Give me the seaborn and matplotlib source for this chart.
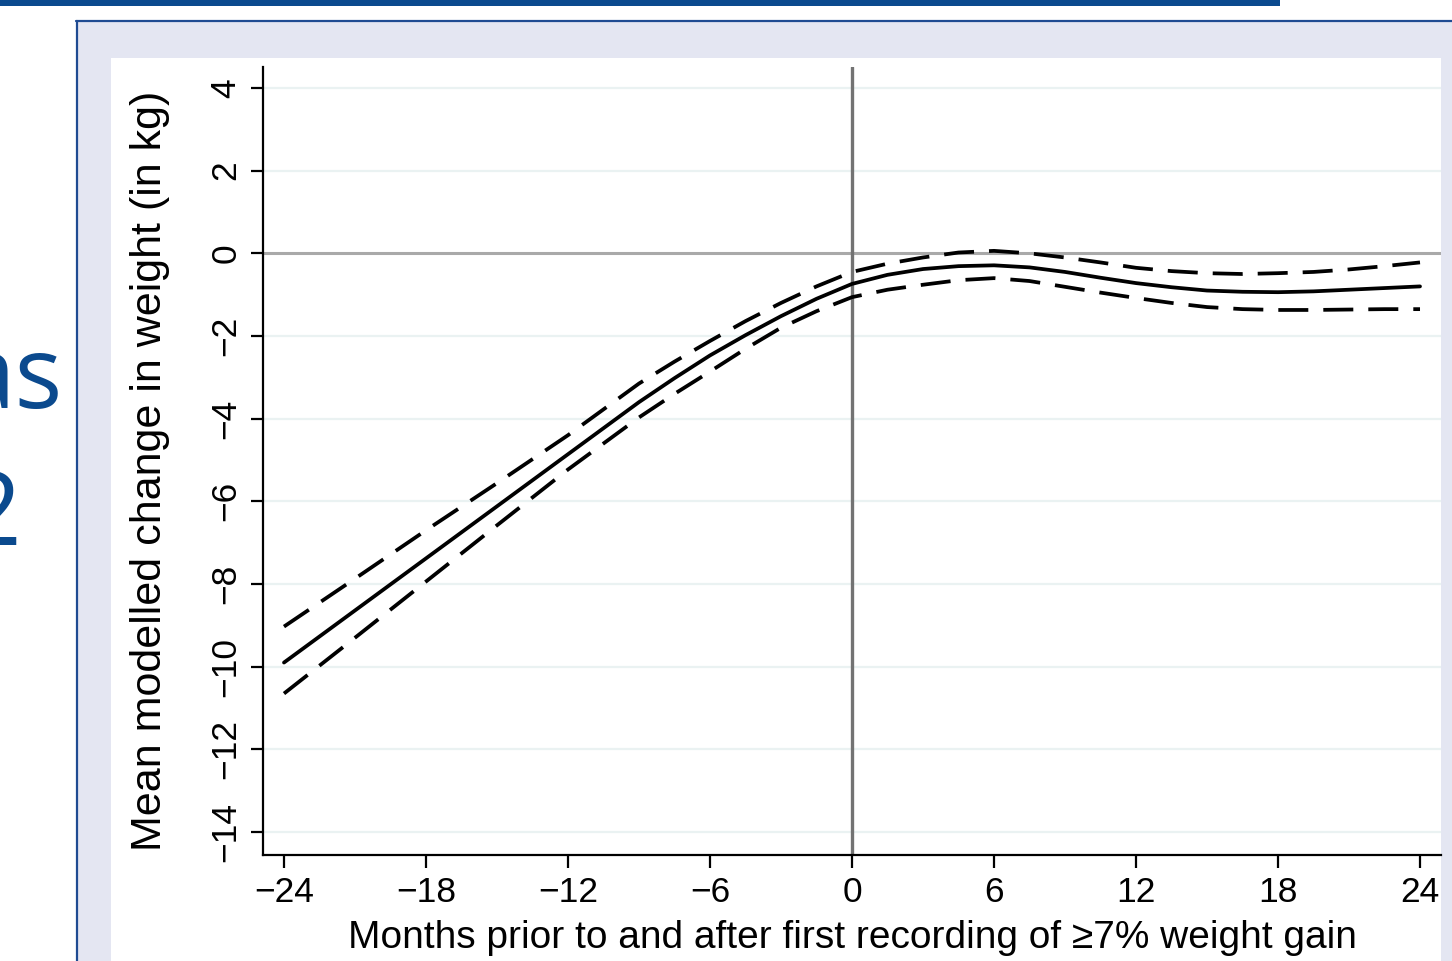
import matplotlib
matplotlib.use("Agg")
import matplotlib.pyplot as plt
import matplotlib.patches as mpatches
import seaborn as sns
import pandas as pd

# ---- data ----
months = [-24, -21, -18, -15, -12, -9, -7.5, -6, -4.5, -3, -1.5, 0, 1.5, 3, 4.5, 6,
          7.5, 9, 10.5, 12, 13.5, 15, 16.5, 18, 19.5, 21, 22.5, 24]
mean_change = [-9.9, -8.64, -7.38, -6.12, -4.86, -3.6, -3.02, -2.47, -1.98, -1.52,
               -1.1, -0.74, -0.52, -0.38, -0.31, -0.29, -0.34, -0.45, -0.59, -0.72,
               -0.82, -0.9, -0.93, -0.94, -0.92, -0.88, -0.84, -0.8]
upper_ci = [-9.03, -7.87, -6.7, -5.56, -4.4, -3.15, -2.62, -2.12, -1.64, -1.2,
            -0.8, -0.45, -0.25, -0.1, 0.02, 0.06, 0.0, -0.1, -0.22, -0.35,
            -0.43, -0.48, -0.5, -0.48, -0.45, -0.39, -0.31, -0.22]
lower_ci = [-10.65, -9.3, -7.94, -6.58, -5.23, -3.97, -3.4, -2.86, -2.31, -1.8,
            -1.4, -1.06, -0.88, -0.76, -0.65, -0.6, -0.67, -0.81, -0.95, -1.08,
            -1.2, -1.3, -1.35, -1.37, -1.37, -1.36, -1.35, -1.35]
x_ticks = [-24, -18, -12, -6, 0, 6, 12, 18, 24]
y_ticks = [4, 2, 0, -2, -4, -6, -8, -10, -12, -14]
x_label = "Months prior to and after first recording of \u22657% weight gain"
y_label = "Mean modelled change in weight (in kg)"

df = pd.DataFrame({"month": months, "mean": mean_change,
                   "upper": upper_ci, "lower": lower_ci})

sns.set_theme(style="white")
plt.rcParams["font.family"] = ["Liberation Sans", "DejaVu Sans"]

W, H = 1452, 961
fig = plt.figure(figsize=(W / 100, H / 100), dpi=100)
fig.patch.set_facecolor("white")

blue = "#0B4A8E"
# slide decorations
fig.patches.append(mpatches.Rectangle((76 / W, 0), 1 - 76 / W, 1 - 21 / H,
                                      transform=fig.transFigure, facecolor="#E4E6F2",
                                      edgecolor="none", zorder=0))
fig.lines.append(plt.Line2D([76.5 / W, 76.5 / W], [0, 1 - 21 / H], transform=fig.transFigure,
                            color="#1F4B92", lw=1.6, zorder=1))
fig.lines.append(plt.Line2D([76 / W, 1], [1 - 21 / H, 1 - 21 / H], transform=fig.transFigure,
                            color="#1F4B92", lw=1.6, zorder=1))
fig.patches.append(mpatches.Rectangle((111 / W, 0), (1441 - 111) / W, 1 - 58 / H,
                                      transform=fig.transFigure, facecolor="white",
                                      edgecolor="none", zorder=0.5))
fig.patches.append(mpatches.Rectangle((0, 1 - 6 / H), 1280 / W, 6 / H,
                                      transform=fig.transFigure, facecolor=blue,
                                      edgecolor="none", zorder=1))
fig.text(63 / W, 1 - 408 / H, "as", color=blue, fontsize=72, ha="right", va="baseline",
         family=["Open Sans", "DejaVu Sans"])
fig.text(22 / W, 1 - 545 / H, "2", color=blue, fontsize=74, ha="right", va="baseline",
         family=["Open Sans", "DejaVu Sans"])

# axes
ax = fig.add_axes([263 / W, 1 - 855 / H, (1441 - 263) / W, (855 - 67) / H])
ax.set_facecolor("none")
ax.set_zorder(2)

for yv in y_ticks:
    if yv == 0:
        ax.axhline(yv, color="#A9A9A9", lw=2.2, zorder=1)
    else:
        ax.axhline(yv, color="#EAF2F2", lw=1.6, zorder=0.5)
ax.axvline(0, color="#737373", lw=2.4, zorder=1)

sns.lineplot(data=df, x="month", y="upper", ax=ax, color="black", lw=2.7,
             linestyle=(0, (8, 4)), zorder=3)
sns.lineplot(data=df, x="month", y="mean", ax=ax, color="black", lw=2.7, zorder=3)
sns.lineplot(data=df, x="month", y="lower", ax=ax, color="black", lw=2.7,
             linestyle=(0, (8, 4)), zorder=3)

ax.set_xlim(-24.887, 24.887)
ax.set_ylim(-14.556, 4.508)
ax.set_xticks(x_ticks)
ax.set_xticklabels([str(v).replace("-", "\u2212") for v in x_ticks])
ax.set_yticks(y_ticks)
ax.set_yticklabels([str(v).replace("-", "\u2212") for v in y_ticks], rotation=90,
                   va="center")

for s in ["top", "right"]:
    ax.spines[s].set_visible(False)
for s in ["left", "bottom"]:
    ax.spines[s].set_color("black")
    ax.spines[s].set_linewidth(1.6)

ax.tick_params(axis="both", which="major", direction="out", length=9, width=1.6,
               color="black", labelsize=25.5, labelcolor="black", pad=6,
               left=True, bottom=True)
ax.set_xlabel(x_label, fontsize=28, color="black", labelpad=8)
ax.set_ylabel(y_label, fontsize=31, color="black", labelpad=28, y=0.487)
ax.grid(False)

fig.savefig("out.png", dpi=100)
